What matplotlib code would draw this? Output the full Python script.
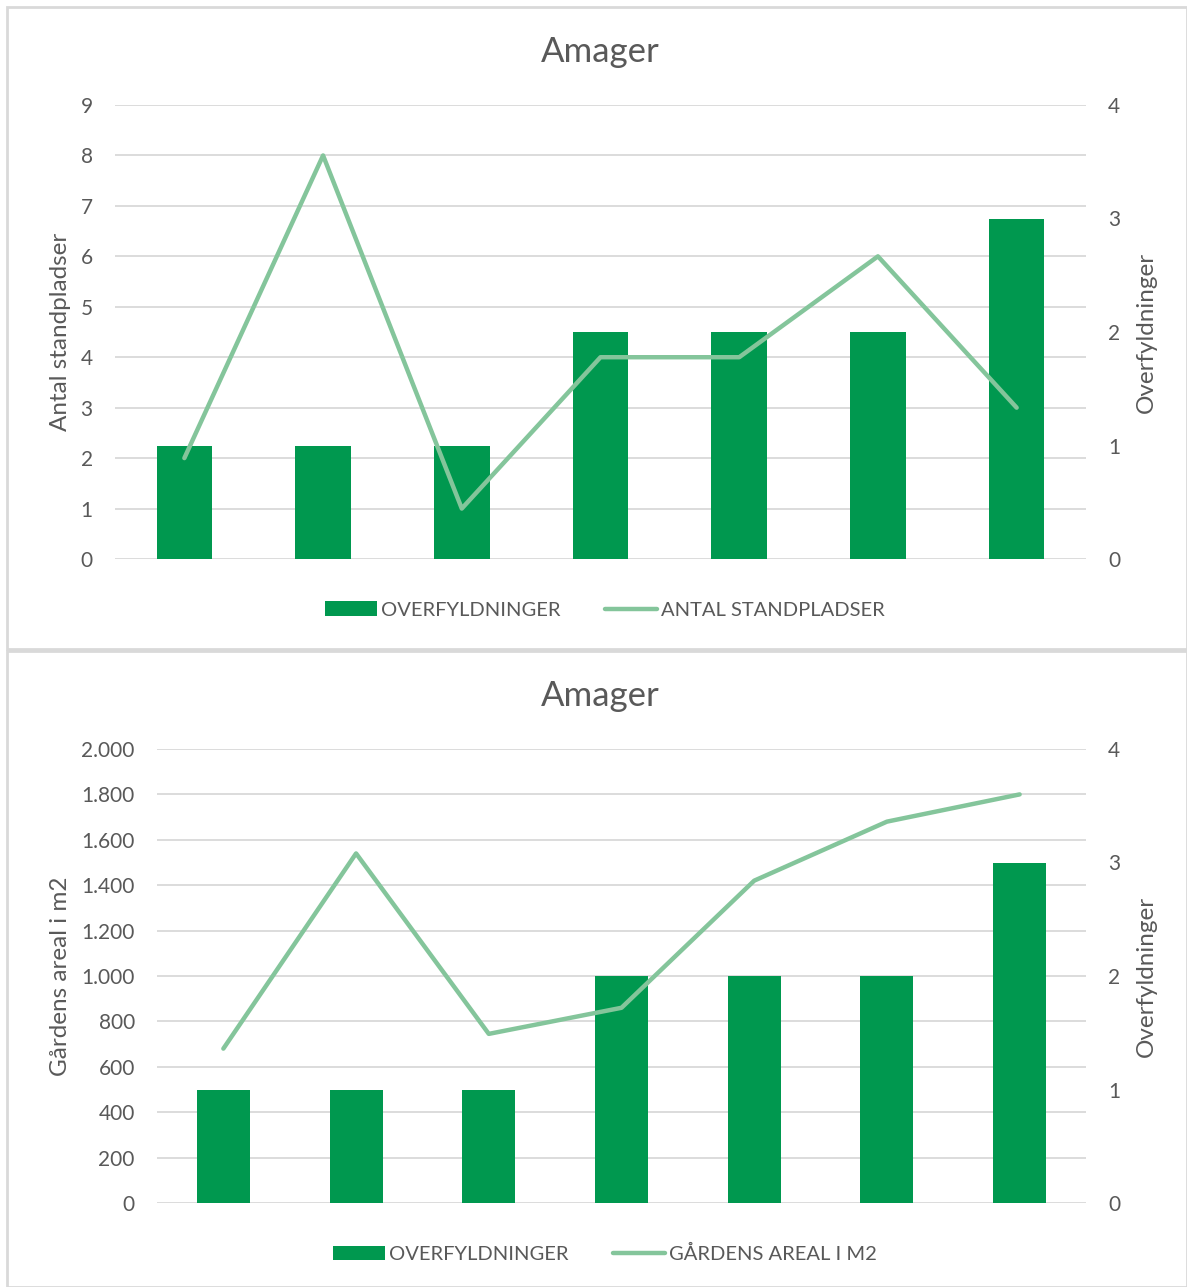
import matplotlib
matplotlib.use("Agg")
import matplotlib.pyplot as plt
from matplotlib.patches import Rectangle
from matplotlib.ticker import FuncFormatter
import numpy as np

plt.rcParams["font.family"] = ["Lato", "DejaVu Sans"]

TITLE = "Amager"
BAR_LABEL = "OVERFYLDNINGER"
overfyldninger = [1, 1, 1, 2, 2, 2, 3]

standpladser = [2, 8, 1, 4, 4, 6, 3]
standpladser_label = "ANTAL STANDPLADSER"

areal = [680, 1540, 745, 860, 1420, 1680, 1800]
areal_label = "GÅRDENS AREAL I M2"

BAR_C = "#00984F"
LINE_C = "#84C59B"
TXT = "#595959"
GRID = "#D9D9D9"

W, H = 1187, 1287
fig = plt.figure(figsize=(W / 100, H / 100), dpi=100)

# panel borders
for y0, y1 in [(7, 649), (651, 1287)]:
    fig.patches.append(Rectangle((7 / W, 1 - y1 / H), (W - 7) / W, (y1 - y0) / H,
                                 transform=fig.transFigure, fill=False,
                                 edgecolor="#D9D9D9", lw=2))


def panel(box, line_vals, line_label, ylabel, ymax, ystep, fmt, title_y, legend_y):
    l, t, r, b = box
    ax = fig.add_axes([l / W, 1 - b / H, (r - l) / W, (b - t) / H])
    ax2 = ax.twinx()
    x = np.arange(len(overfyldninger))

    ax.set_ylim(0, ymax)
    ax.set_yticks(np.arange(0, ymax + ystep / 2, ystep))
    ax.yaxis.set_major_formatter(FuncFormatter(fmt))
    ax.set_xlim(-0.5, len(x) - 0.5)
    ax.set_xticks([])
    ax.grid(axis="y", color=GRID, lw=1.3)
    ax.set_axisbelow(True)

    ax2.set_ylim(0, 4)
    ax2.set_yticks([0, 1, 2, 3, 4])
    ax2.set_xlim(-0.5, len(x) - 0.5)

    bars = ax2.bar(x, overfyldninger, width=0.4, color=BAR_C, zorder=1)
    line, = ax2.plot(x, line_vals, color=LINE_C, lw=3.2, transform=ax.transData,
                     zorder=2, solid_capstyle="round")

    for a in (ax, ax2):
        for s in a.spines.values():
            s.set_visible(False)
        a.tick_params(axis="y", length=0, pad=16, labelsize=15, labelcolor=TXT)

    ax.set_ylabel(ylabel, fontsize=17.5, color=TXT)
    ax2.set_ylabel("Overfyldninger", fontsize=17.5, color=TXT)
    ax.yaxis.set_label_coords((71 - l) / (r - l), 0.5)
    ax2.yaxis.set_label_coords((1136 - l) / (r - l), 0.5)

    fig.text(600 / W, 1 - title_y / H, TITLE, ha="center", va="center",
             fontsize=25, color=TXT)
    fig.legend([bars, line], [BAR_LABEL, line_label], loc="center",
               bbox_to_anchor=(605 / W, 1 - legend_y / H), ncol=2, frameon=False,
               fontsize=14.5, labelcolor=TXT, handlelength=2.6, handleheight=0.75,
               handletextpad=0.2, columnspacing=2.2)


panel((115, 105, 1086, 559), standpladser, standpladser_label, "Antal standpladser",
      9, 1, lambda v, p: f"{v:.0f}", 52, 610)
panel((157, 749, 1086, 1203), areal, areal_label, "Gårdens areal i m2",
      2000, 200, lambda v, p: f"{v:,.0f}".replace(",", "."), 696, 1254)

fig.savefig("out.png", dpi=100)
